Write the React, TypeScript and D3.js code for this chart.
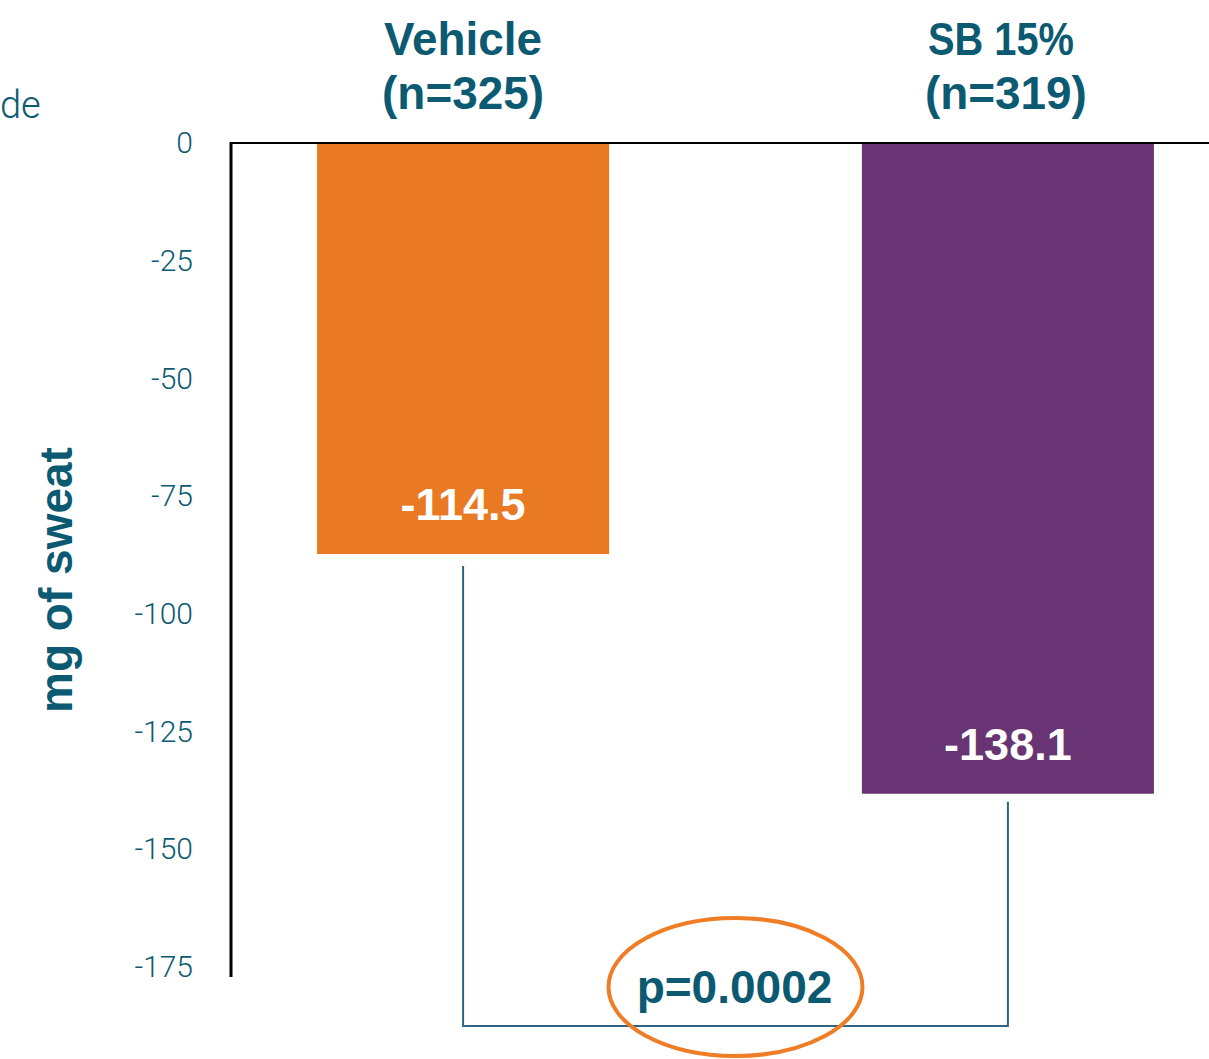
import { useEffect, useRef } from 'react'
import * as d3 from 'd3'

const groups = ['Vehicle', 'SB 15%']
const groupCounts = ['(n=325)', '(n=319)']
// bar heights as drawn in the picture, and the printed value labels
const barValues = [-87.3, -138.2]
const valueLabels = ['-114.5', '-138.1']
const yTicks = [0, -25, -50, -75, -100, -125, -150, -175]
const pValue = 'p=0.0002'

const colors = ['#EA7924', '#683473']
const teal = '#0B5A72'

const svgWidth = 1209
const svgHeight = 1059

export default function App() {
  const svgRef = useRef(null)

  useEffect(() => {
    svgRef.current.innerHTML = ''
    const svg = d3.select(svgRef.current)

    const y = d3.scaleLinear().domain([0, -175]).range([143, 967])
    const x = d3.scaleBand()
      .domain(groups)
      .range([231, 1240])
      .paddingInner(0.464)
      .paddingOuter(0.158)

    // partial text on the left edge
    svg.append('text')
      .attr('x', 0)
      .attr('y', 118)
      .attr('fill', teal)
      .style('font', '300 38px Roboto, sans-serif')
      .text('de')

    // bars
    svg.append('g')
      .selectAll('rect')
      .data(groups)
      .enter().append('rect')
      .attr('x', d => x(d))
      .attr('width', x.bandwidth())
      .attr('y', y(0))
      .attr('height', (d, i) => y(barValues[i]) - y(0))
      .attr('fill', (d, i) => colors[i])

    // y axis
    const yAxis = d3.axisLeft(y)
      .tickValues(yTicks)
      .tickFormat(d => String(d))
      .tickSize(0)
      .tickPadding(38)
    const ag = svg.append('g')
      .attr('transform', 'translate(231,0)')
      .call(yAxis)
    ag.select('.domain').remove()
    ag.selectAll('text')
      .attr('fill', teal)
      .style('font', '300 30px Roboto, sans-serif')
      .attr('dy', '0.32em')

    svg.append('line')
      .attr('x1', 231).attr('x2', 231)
      .attr('y1', 142).attr('y2', 977)
      .attr('stroke', '#000').attr('stroke-width', 3)
    svg.append('line')
      .attr('x1', 230).attr('x2', svgWidth)
      .attr('y1', 143).attr('y2', 143)
      .attr('stroke', '#000').attr('stroke-width', 2)

    // category headers
    const head = svg.append('g')
    const headFont = 'bold 47px "Liberation Sans Narrow", "Arial Narrow", "Liberation Sans", sans-serif'
    groups.forEach((g, i) => {
      const cx = x(g) + x.bandwidth() / 2
      const t1 = head.append('text')
        .attr('x', cx - (i === 1 ? 7 : 0))
        .attr('y', 55)
        .attr('text-anchor', 'middle')
        .attr('fill', teal)
        .style('font', headFont)
        .text(g)
      const t2 = head.append('text')
        .attr('x', cx - (i === 1 ? 2 : 0))
        .attr('y', 109)
        .attr('text-anchor', 'middle')
        .attr('fill', teal)
        .style('font', headFont)
        .text(groupCounts[i])
      if (i === 1) {
        t1.attr('textLength', 146).attr('lengthAdjust', 'spacingAndGlyphs')
        t2.attr('textLength', 162).attr('lengthAdjust', 'spacingAndGlyphs')
      } else {
        t1.attr('textLength', 158).attr('lengthAdjust', 'spacingAndGlyphs')
        t2.attr('textLength', 162).attr('lengthAdjust', 'spacingAndGlyphs')
      }
    })

    // value labels inside bars
    svg.append('g')
      .selectAll('text')
      .data(groups)
      .enter().append('text')
      .attr('x', d => x(d) + x.bandwidth() / 2)
      .attr('y', (d, i) => y(barValues[i]) - 34)
      .attr('text-anchor', 'middle')
      .attr('fill', '#fff')
      .style('font', 'bold 45px "Liberation Sans", Arial, sans-serif')
      .text((d, i) => valueLabels[i])

    // y axis title
    svg.append('text')
      .attr('transform', 'translate(72,580) rotate(-90)')
      .attr('text-anchor', 'middle')
      .attr('fill', teal)
      .style('font', 'bold 46px "Liberation Sans", Arial, sans-serif')
      .text('mg of sweat')

    // significance bracket
    const x0 = x(groups[0]) + x.bandwidth() / 2
    const x1 = x(groups[1]) + x.bandwidth() / 2
    const yb = 1026
    svg.append('path')
      .attr('d', `M${x0},${y(barValues[0]) + 12}V${yb}H${x1}V${y(barValues[1]) + 8}`)
      .attr('fill', 'none')
      .attr('stroke', '#2F6480')
      .attr('stroke-width', 2)

    const pcx = (x0 + x1) / 2
    svg.append('ellipse')
      .attr('cx', pcx)
      .attr('cy', 987)
      .attr('rx', 127)
      .attr('ry', 69)
      .attr('fill', 'none')
      .attr('stroke', '#EE7D26')
      .attr('stroke-width', 4)

    svg.append('text')
      .attr('x', pcx - 1)
      .attr('y', 1003)
      .attr('text-anchor', 'middle')
      .attr('fill', teal)
      .style('font', 'bold 46px "Liberation Sans", Arial, sans-serif')
      .text(pValue)
  }, [])

  return (
    <svg
      ref={svgRef}
      width={svgWidth}
      height={svgHeight}
      viewBox={`0 0 ${svgWidth} ${svgHeight}`}
      style={{ position: 'absolute', left: 0, top: 0, display: 'block', background: '#fff' }}
    />
  )
}
